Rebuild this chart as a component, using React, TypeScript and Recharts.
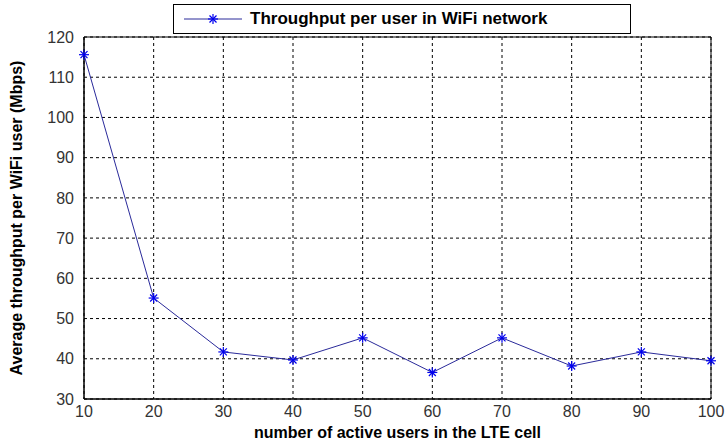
import {
	CartesianGrid,
	Line,
	LineChart,
	ReferenceArea,
	XAxis,
	YAxis,
} from "recharts";

const users = [10, 20, 30, 40, 50, 60, 70, 80, 90, 100];
const throughput = [115.6, 55.1, 41.7, 39.7, 45.2, 36.6, 45.2, 38.2, 41.7, 39.5];
const xTicks = [10, 20, 30, 40, 50, 60, 70, 80, 90, 100];
const yTicks = [30, 40, 50, 60, 70, 80, 90, 100, 110, 120];

const data = users.map((u, i) => ({ users: u, throughput: throughput[i] }));

const LINE_COLOR = "#2a2a9a";
const MARK_COLOR = "#0000ee";

function Star(props: any) {
	const { cx, cy } = props;
	if (cx == null || cy == null) return null;
	const r = 5;
	const d = r * 0.7;
	return (
		<g stroke={MARK_COLOR} strokeWidth={1.2}>
			<line x1={cx - r} y1={cy} x2={cx + r} y2={cy} />
			<line x1={cx} y1={cy - r} x2={cx} y2={cy + r} />
			<line x1={cx - d} y1={cy - d} x2={cx + d} y2={cy + d} />
			<line x1={cx - d} y1={cy + d} x2={cx + d} y2={cy - d} />
		</g>
	);
}

function LegendBox() {
	return (
		<div
			style={{
				position: "absolute",
				left: 173,
				top: 4,
				width: 458,
				height: 30,
				border: "1px solid #000",
				background: "#fff",
				display: "flex",
				alignItems: "center",
				boxSizing: "border-box",
				fontFamily: "Arial, 'Liberation Sans', sans-serif",
				fontWeight: "bold",
				fontSize: 17,
				color: "#000",
			}}
		>
			<svg width={64} height={20} style={{ marginLeft: 10 }}>
				<line x1={0} y1={10} x2={58} y2={10} stroke={LINE_COLOR} strokeWidth={1} />
				<Star cx={29} cy={10} />
			</svg>
			<span style={{ marginLeft: 2 }}>Throughput per user in WiFi network</span>
		</div>
	);
}

const tickStyle = {
	fontFamily: "Arial, 'Liberation Sans', sans-serif",
	fontSize: 16,
	fill: "#333",
};

export default function App() {
	return (
		<div style={{ position: "absolute", left: 0, top: 0, width: 725, height: 441, background: "#fff" }}>
			<LineChart
				width={725}
				height={441}
				data={data}
				margin={{ top: 37, right: 14, bottom: 0, left: 30 }}
			>
				<CartesianGrid stroke="#000" strokeDasharray="3 3" strokeWidth={1} />
				<XAxis
					dataKey="users"
					type="number"
					domain={[10, 100]}
					ticks={xTicks}
					tick={tickStyle}
					tickLine={false}
					axisLine={{ stroke: "#000" }}
					height={42}
					tickMargin={1}
					label={{
						value: "number of active users in the LTE cell",
						position: "insideBottom",
						offset: 3,
						style: {
							fontFamily: "Arial, 'Liberation Sans', sans-serif",
							fontWeight: "bold",
							fontSize: 16,
							fill: "#000",
						},
					}}
				/>
				<YAxis
					type="number"
					domain={[30, 120]}
					ticks={yTicks}
					tick={tickStyle}
					tickLine={false}
					axisLine={{ stroke: "#000" }}
					width={54}
					tickMargin={4}
					label={{
						value: "Average throughput per WiFi user (Mbps)",
						angle: -90,
						position: "insideLeft",
						offset: -14,
						style: {
							textAnchor: "middle",
							fontFamily: "'Liberation Sans Narrow', 'Arial Narrow', Arial, sans-serif",
							fontWeight: "bold",
							fontSize: 16,
							fill: "#000",
						},
					}}
				/>
				<ReferenceArea
					x1={10}
					x2={100}
					y1={30}
					y2={120}
					fill="none"
					stroke="#000"
					strokeWidth={1}
					ifOverflow="visible"
				/>
				<Line
					type="linear"
					dataKey="throughput"
					stroke={LINE_COLOR}
					strokeWidth={1}
					dot={<Star />}
					activeDot={false}
					isAnimationActive={false}
				/>
			</LineChart>
			<LegendBox />
		</div>
	);
}
